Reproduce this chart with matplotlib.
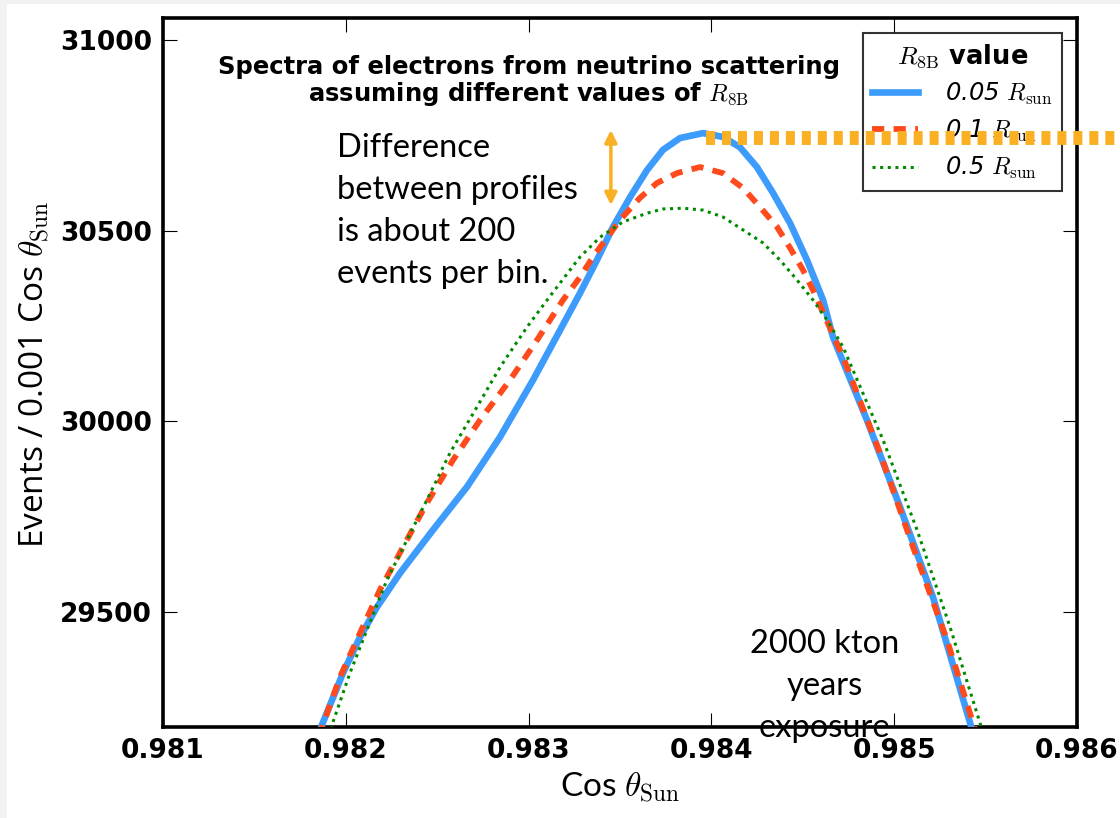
import matplotlib
matplotlib.use("Agg")
import matplotlib.pyplot as plt
from matplotlib.patches import Rectangle

plt.rcParams['mathtext.fontset'] = 'cm'

# ---- data ----
x_005 = [0.981848, 0.981870, 0.981985, 0.982078, 0.982171, 0.982297, 0.982477, 0.982663,
         0.982844, 0.983024, 0.983172, 0.983281, 0.983374, 0.983462, 0.983555, 0.983648,
         0.983735, 0.983828, 0.983954, 0.984063, 0.984156, 0.984249, 0.984337, 0.984430,
         0.984523, 0.984611, 0.984665, 0.984851, 0.985032, 0.985212, 0.985415, 0.985437]
y_005 = [29172, 29204, 29340, 29434, 29513, 29602, 29715, 29828,
         29959, 30108, 30239, 30336, 30423, 30510, 30588, 30659,
         30712, 30743, 30756, 30746, 30719, 30667, 30599, 30520,
         30423, 30318, 30221, 30003, 29775, 29539, 29209, 29172]

x_01 = [0.981853, 0.981875, 0.981968, 0.982078, 0.982187, 0.982313, 0.982444, 0.982586,
        0.982734, 0.982898, 0.983046, 0.983188, 0.983281, 0.983352, 0.983500, 0.983609,
        0.983702, 0.983812, 0.983938, 0.984063, 0.984173, 0.984266, 0.984359, 0.984430,
        0.984501, 0.984556, 0.984720, 0.984922, 0.985103, 0.985289, 0.985431, 0.985453]
y_01 = [29172, 29204, 29329, 29445, 29558, 29670, 29786, 29898,
        30003, 30108, 30213, 30318, 30378, 30431, 30528, 30586,
        30625, 30651, 30667, 30651, 30612, 30562, 30510, 30455,
        30397, 30344, 30169, 29917, 29670, 29426, 29209, 29172]

x_05 = [0.981914, 0.981930, 0.982023, 0.982116, 0.982225, 0.982335, 0.982444, 0.982570,
        0.982718, 0.982844, 0.982991, 0.983101, 0.983281, 0.983391, 0.983516, 0.983648,
        0.983735, 0.983845, 0.983954, 0.984063, 0.984173, 0.984282, 0.984375, 0.984468,
        0.984556, 0.984632, 0.984720, 0.984939, 0.985125, 0.985305, 0.985469, 0.985491]
y_05 = [29172, 29211, 29340, 29453, 29584, 29689, 29794, 29917,
        30038, 30142, 30247, 30318, 30431, 30483, 30523, 30546,
        30557, 30559, 30554, 30536, 30502, 30468, 30423, 30371,
        30318, 30266, 30195, 29951, 29715, 29461, 29209, 29172]

labels = ["0.05 $R_{\\rm sun}$", "0.1 $R_{\\rm sun}$", "0.5 $R_{\\rm sun}$"]
xticks = [0.981, 0.982, 0.983, 0.984, 0.985, 0.986]
yticks = [29500, 30000, 30500, 31000]
peak_level = 30744
peak_x = 0.98397
arrow_x = 0.98345
arrow_top = 30764
arrow_bottom = 30567

# ---- figure ----
W, H = 1120, 818
fig = plt.figure(figsize=(W / 100, H / 100), dpi=100, facecolor='#f2f2f2')
bg = Rectangle((7 / W, 0), 1 - 7 / W, 1 - 4 / H, transform=fig.transFigure,
               facecolor='white', edgecolor='none', zorder=-10)
fig.add_artist(bg)
ax = fig.add_axes([163 / W, 91 / H, 914 / W, 709 / H])
ax.set_zorder(1)

ax.plot(x_005, y_005, color='#3d9bfb', lw=4.8, label=labels[0], zorder=3,
        solid_joinstyle='round')
ax.plot(x_01, y_01, color='#ff4a1c', lw=4.2, ls=(0, (2.1, 1.6)), label=labels[1],
        zorder=4, dash_joinstyle='round')
ax.plot(x_05, y_05, color='#008a00', lw=2.2, ls=(0, (1.0, 1.5)), label=labels[2],
        zorder=5)

ax.set_xlim(0.981, 0.986)
ax.set_ylim(29198, 31058)
ax.set_xticks(xticks)
ax.set_xticklabels([f"{t:.3f}" for t in xticks])
ax.set_yticks(yticks)
ax.set_yticklabels([str(t) for t in yticks])
ax.tick_params(direction='in', length=10, width=0.8, top=True, right=True,
               labelsize=19, pad=8)
for lab in ax.get_xticklabels() + ax.get_yticklabels():
    lab.set_fontweight('bold')
for s in ax.spines.values():
    s.set_linewidth(2.6)

ax.set_xlabel("Cos $\\theta_{\\rm Sun}$", fontsize=24, family='Lato', labelpad=4)
ax.set_ylabel("Events / 0.001 Cos $\\theta_{\\rm Sun}$", fontsize=24,
              family='Open Sans')
ax.yaxis.set_label_coords(-0.122, 0.498)

leg = ax.legend(loc='upper right', frameon=True, fancybox=False,
                borderaxespad=0.6, handlelength=1.9, handletextpad=1.1,
                labelspacing=0.45, borderpad=0.4,
                title="$R_{8\\mathrm{B}}$ value",
                title_fontproperties={'size': 18.5, 'weight': 'bold'},
                prop={'style': 'italic', 'size': 17.5})
leg.get_frame().set_edgecolor('black')
leg.get_frame().set_linewidth(1.5)
leg.set_zorder(6)

ax.text(0.400, 0.911, "Spectra of electrons from neutrino scattering\n"
        "assuming different values of $R_{8\\mathrm{B}}$",
        transform=ax.transAxes, ha='center', va='center', fontsize=17.5,
        fontweight='bold', linespacing=1.05)

ax.text(0.98195, 30756, "Difference\nbetween profiles\nis about 200\nevents per bin.",
        ha='left', va='top', fontsize=23.5, family='Lato', linespacing=1.5)
ax.text(0.984621, 29455, "2000 kton\nyears\nexposure", ha='center', va='top',
        fontsize=23.5, family='Lato', linespacing=1.5, zorder=7)

ax.plot([peak_x, 0.9868], [peak_level, peak_level], color='#f9b024', lw=10,
        ls=(0, (0.65, 0.5)), clip_on=False, zorder=10, solid_capstyle='butt',
        dash_capstyle='butt')
ax.annotate("", xy=(arrow_x, arrow_top), xytext=(arrow_x, arrow_bottom),
            arrowprops=dict(arrowstyle='<|-|>', color='#f9b024', lw=2.5,
                            mutation_scale=18, shrinkA=0, shrinkB=0))

fig.savefig("out.png", dpi=100, facecolor=fig.get_facecolor())
